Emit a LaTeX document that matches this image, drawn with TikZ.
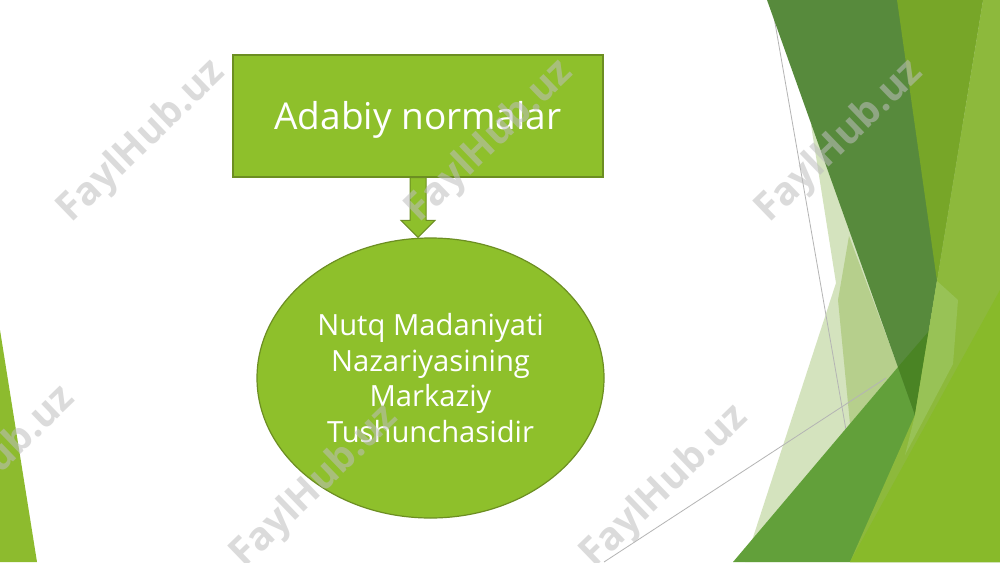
\documentclass[tikz,border=0pt]{standalone}
\usepackage{fontspec}
\setmainfont{Open Sans}
\usetikzlibrary{shapes.geometric,calc}
\definecolor{facetfill}{HTML}{8EC02B}
\definecolor{facetline}{HTML}{6C8E22}
\definecolor{palelight}{HTML}{D4E3BE}
\definecolor{palemid}{HTML}{B6CF8C}
\definecolor{medgreen}{HTML}{62A03A}
\definecolor{darkgreen}{HTML}{578A3C}
\definecolor{darkestgreen}{HTML}{4A8424}
\definecolor{olivegreen}{HTML}{77A628}
\definecolor{lightgreen}{HTML}{8DB93C}
\definecolor{lightstripe}{HTML}{98C256}
\definecolor{brightgreen}{HTML}{88BA2A}
\definecolor{sliver}{HTML}{8DBB2E}
\definecolor{thingray}{HTML}{B4B4B4}
\definecolor{wmgray}{HTML}{BEBEBE}
\tikzset{
  boxstyle/.style={draw=facetline, line width=0.6pt, fill=facetfill, text=white,
    minimum width=185pt, minimum height=61pt, inner sep=0pt,
    text height=13.2pt, text depth=0pt,
    font=\fontsize{18.5}{22}\selectfont},
  ellstyle/.style={ellipse, draw=facetline, line width=0.6pt, fill=facetfill, text=white,
    minimum width=173.5pt, minimum height=140pt, inner sep=0pt, align=center,
    font=\fontsize{14.6}{17.75}\selectfont},
  arrowstyle/.style={draw=facetline, line width=0.5pt, fill=facetfill, line join=miter},
  thinline/.style={draw=thingray, line width=0.4pt},
  wm/.style={font=\bfseries\fontsize{19.5}{19.5}\selectfont, text=wmgray, text opacity=0.55, rotate=44}
}
\begin{document}
\begin{tikzpicture}[x=0.5pt,y=-0.5pt]
\useasboundingbox (0,0) rectangle (1000,562);
\fill[white] (0,0) rectangle (1000,562);
% right-hand decoration
\fill[palelight] (811,125) -- (836,283) -- (745,562) -- (1000,562) -- (1000,125) -- cycle;
\fill[palemid] (849,236) -- (838,300) -- (850,424) -- (898,367) -- cycle;
\draw[thinline] (771,0) -- (846,430);
\draw[thinline] (604,562) -- (886,378);
\fill[medgreen] (733,562) -- (898,367) -- (1000,247) -- (1000,562) -- cycle;
\fill[darkgreen] (767,0) -- (983,0) -- (915,415) -- cycle;
\fill[darkestgreen] (898,367) -- (929,331) -- (915,415) -- cycle;
\fill[olivegreen] (897,0) -- (983,0) -- (937,281) -- cycle;
\fill[lightgreen] (983,0) -- (1000,0) -- (1000,562) -- (850,562) -- (915,415) -- cycle;
\fill[lightstripe] (937,281) -- (958,300) -- (953,364) -- (905,455) -- (915,415) -- cycle;
\fill[brightgreen] (1000,290) -- (1000,562) -- (850,562) -- cycle;
% left sliver
\fill[sliver] (0,330) -- (37,562) -- (0,562) -- cycle;
% diagram
\node[boxstyle] (box) at (418,116) {Adabiy normalar};
\node[ellstyle] (ell) at (430.5,378) {Nutq Madaniyati\\Nazariyasining\\Markaziy\\Tushunchasidir};
\coordinate (tip) at (box.south |- ell.north);
\draw[arrowstyle] ($(box.south)+(-8,0)$) -- ($(box.south)+(8,0)$) -- ($(tip)+(8,-17)$)
  -- ($(tip)+(17,-17)$) -- (tip) -- ($(tip)+(-17,-17)$) -- ($(tip)+(-8,-17)$) -- cycle;
% watermarks
\node[wm] (w1) at (142,142) {FaylHub.uz};
\node[wm] (w2) at (490,142) {FaylHub.uz};
\node[wm] (w3) at (840,142) {FaylHub.uz};
\node[wm] (w4) at (-8,468) {FaylHub.uz};
\node[wm] (w5) at (315,487) {FaylHub.uz};
\node[wm] (w6) at (665,487) {FaylHub.uz};
\end{tikzpicture}
\end{document}
